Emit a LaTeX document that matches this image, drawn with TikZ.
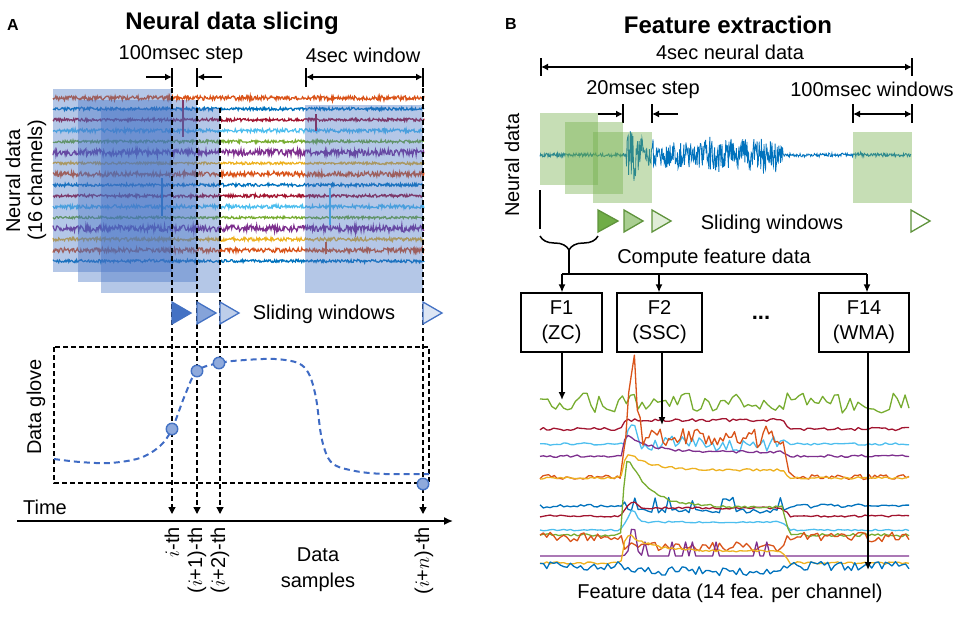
\documentclass[tikz,border=0pt]{standalone}
\usepackage{fontspec}
\setmainfont{Liberation Sans}
\usetikzlibrary{arrows.meta,decorations.pathreplacing}
\definecolor{mOr}{HTML}{D95319}
\definecolor{mBl}{HTML}{0072BD}
\definecolor{mRd}{HTML}{A2142F}
\definecolor{mLb}{HTML}{4DBEEE}
\definecolor{mGr}{HTML}{77AC30}
\definecolor{mPu}{HTML}{7E2F8E}
\definecolor{mYe}{HTML}{EDB120}
\definecolor{wBlue}{HTML}{4472C4}
\definecolor{wGreen}{HTML}{70AD47}
\definecolor{gBlue}{HTML}{3F6BC4}
\definecolor{cDot}{HTML}{8FAADC}
\begin{document}
\begin{tikzpicture}[x=1pt,y=-1pt,
  lbl/.style={font=\fontsize{20}{26}\selectfont, inner sep=0pt},
  ttl/.style={font=\bfseries\fontsize{24}{28}\selectfont, inner sep=0pt},
  pnl/.style={font=\bfseries\fontsize{16}{18}\selectfont, inner sep=0pt},
  dimline/.style={line width=1.5pt},
  dimarrow/.style={line width=1.5pt, -{Latex[length=7pt,width=7pt]}},
  dimboth/.style={line width=1.5pt, {Latex[length=7pt,width=7pt]}-{Latex[length=7pt,width=7pt]}},
  guide/.style={dash pattern=on 5pt off 3pt, line width=1.3pt, -{Triangle[length=7pt,width=7pt]}},
  winA/.style={fill=wBlue, fill opacity=0.4},
  winB/.style={fill=wGreen, fill opacity=0.4},
  triA/.style={line width=1.3pt, draw=wBlue, line join=miter},
  triB/.style={line width=1.3pt, draw=wGreen!85!black, line join=miter},
  gdot/.style={circle, draw=wBlue, fill=cDot, line width=1.4pt, minimum size=11.5pt, inner sep=0pt},
  glove/.style={gBlue, line width=2pt, dash pattern=on 6pt off 4pt},
  fbox/.style={draw, line width=1.3pt, align=center, font=\fontsize{20}{25}\selectfont, minimum height=59pt, inner sep=0pt},
  farrow/.style={line width=1.5pt, -{Latex[length=8pt,width=7pt]}},
  ftrace/.style={line width=1.3pt, line join=round},
  declare function={
    ac(\t)=min(1,max(0,(\t-620)/6))*min(1,max(0,(790-\t)/8));
    dc(\t)=(\t>622)*exp(-min(9,max(0,\t-630)/22));
    gs(\t)=exp(-min(9,((\t-633)/5)^2));
    bamp(\t)=(\t<626)*3+(\t>=626)*(\t<660)*(36*exp(-min(9,max(0,\t-630)/12))+14)+(\t>=660)*(\t<700)*22+(\t>=700)*(\t<784)*26+(\t>=784)*3;
  }]
\useasboundingbox (0,0) rectangle (957,616);
\pgfmathsetseed{11}

% ================= Panel A =================
\node[pnl] (labA) at (13,25) {A};
\node[ttl] (titA) at (232,23) {Neural data slicing};
\node[lbl] (stepA) at (181,55) {100msec step};
\node[lbl] (winlA) at (363,55) {4sec window};

\node[lbl, rotate=90] (ndA) at (13,181) {Neural data};
\node[lbl, rotate=90] (chA) at (37,180) {(16 channels)};

% neural traces
\foreach \c/\a [count=\k from 0] in {mOr/3.4,mBl/2.2,mRd/2.2,mLb/2.8,mGr/2.2,mPu/4.8,mYe/1.8,mOr/3.6,mBl/2.2,mRd/2.2,mLb/2.8,mGr/1.8,mPu/4.8,mYe/2.6,mOr/3.4,mBl/2.2}
  \draw[\c, line width=1.2pt] plot[domain=53:424, samples=520] (\x,{98+\k*10.87+\a*(0.65*rand+0.35*rand*rand*rand)});
\draw[mRd, line width=1.2pt] (183,100) -- (183,137);
\draw[mRd, line width=1.2pt] (316,114) -- (316,131);
\draw[mBl, line width=1.2pt] (162,178) -- (162,216);
\draw[mLb, line width=1.2pt] (330,188) -- (330,225);
\draw[mOr, line width=1.2pt] (326,242) -- (326,254);

% windows
\fill[winA] (53,89) rectangle (172,272);
\fill[winA] (78,100) rectangle (197,282);
\fill[winA] (101,108) rectangle (220,293);
\fill[winA] (305,105) rectangle (423,293);

% dimension marks
\coordinate (s1t) at (172,68); \coordinate (s1b) at (172,87);
\coordinate (s2t) at (197,68); \coordinate (s2b) at (197,87);
\coordinate (w1t) at (306,68); \coordinate (w1b) at (306,87);
\coordinate (w2t) at (423,68); \coordinate (w2b) at (423,87);
\draw[dimline] (s1t) -- (s1b); \draw[dimline] (s2t) -- (s2b);
\draw[dimline] (w1t) -- (w1b); \draw[dimline] (w2t) -- (w2b);
\coordinate (a1) at (146,77); \coordinate (a2) at (222,77);
\draw[dimarrow] (a1) -- (172,77);
\draw[dimarrow] (a2) -- (197,77);
\draw[dimboth] (306,77) -- (423,77);

% guides
\coordinate (g1) at (172,88);  \coordinate (g1e) at (172,514);
\coordinate (g2) at (197,100); \coordinate (g2e) at (197,514);
\coordinate (g3) at (220,108); \coordinate (g3e) at (220,514);
\coordinate (g4) at (423,88);  \coordinate (g4e) at (423,514);
\draw[guide] (g1) -- (g1e);
\draw[guide] (g2) -- (g2e);
\draw[guide] (g3) -- (g3e);
\draw[guide] (g4) -- (g4e);

% sliding window triangles
\draw[triA, fill=wBlue] (172,302) -- (172,324) -- (191,313) -- cycle;
\draw[triA, fill=wBlue!65] (197,302) -- (197,324) -- (216,313) -- cycle;
\draw[triA, fill=wBlue!35] (220,302) -- (220,324) -- (239,313) -- cycle;
\draw[triA, fill=wBlue!18] (423,302) -- (423,324) -- (442,313) -- cycle;
\node[lbl] (swA) at (324,314) {Sliding windows};

% data glove
\draw[line width=1.3pt, dash pattern=on 5pt off 3pt] (54,347) rectangle (429,483);
\node[lbl, rotate=90] (dgl) at (36,407) {Data glove};
\draw[glove] plot[smooth, tension=0.55] coordinates {(54,459) (80,462) (110,463) (140,458) (160,446) (172,429) (185,395) (197,371) (219,363) (245,360) (275,359) (298,363) (309,374) (316,398) (322,440) (332,463) (355,471) (385,474) (429,474)};
\node[gdot] (d1) at (172,429) {};
\node[gdot] (d2) at (197,371) {};
\node[gdot] (d3) at (219,363) {};
\node[gdot] (d4) at (423,484) {};

% time axis
\node[lbl] (time) at (45,507) {Time};
\coordinate (t0) at (17,521); \coordinate (t1) at (453,521);
\draw[line width=1.5pt, -{Latex[length=9pt,width=8pt]}] (t0) -- (t1);
\node[lbl, rotate=90, anchor=east] (l1) at (172,527) {$i$-th};
\node[lbl, rotate=90, anchor=east] (l2) at (197,527) {($i$+1)-th};
\node[lbl, rotate=90, anchor=east] (l3) at (220,527) {($i$+2)-th};
\node[lbl, rotate=90, anchor=east] (l4) at (424,527) {($i$+$n$)-th};
\node[lbl, align=center] (dsamp) at (318,570) {Data\\samples};

% ================= Panel B =================
\node[pnl] (labB) at (511,24) {B};
\node[ttl] (titB) at (728,25) {Feature extraction};
\node[lbl] (fsd) at (730,52) {4sec neural data};
\draw[dimline] (541,58) -- (541,76);
\draw[dimline] (912,58) -- (912,76);
\draw[dimboth] (541,67) -- (912,67);
\node[lbl] (stepB) at (643,90) {20msec step};
\node[lbl] (winlB) at (872,89) {100msec windows};
\draw[dimline] (623,104) -- (623,123);
\draw[dimline] (652,104) -- (652,123);
\draw[dimarrow] (598,114) -- (623,114);
\draw[dimarrow] (678,114) -- (652,114);
\draw[dimline] (853,104) -- (853,123);
\draw[dimline] (912,104) -- (912,123);
\draw[dimboth] (853,114) -- (912,114);

\node[lbl, rotate=90] (ndB) at (512,165) {Neural data};

% signal
\draw[mBl, line width=0.8pt] plot[domain=540:911, samples=700]
  (\x,{155+bamp(\x)*(0.6*rand+0.4*rand*rand*rand)});

% green windows
\fill[winB] (540,113) rectangle (598,185);
\fill[winB] (565,122) rectangle (623,194);
\fill[winB] (593,132) rectangle (652,203);
\fill[winB] (853,132) rectangle (912,203);

% triangles
\draw[triB, fill=wGreen] (598,210) -- (598,232) -- (618,221) -- cycle;
\draw[triB, fill=wGreen!60] (624,210) -- (624,232) -- (643,221) -- cycle;
\draw[triB, fill=wGreen!22] (652,210) -- (652,232) -- (671,221) -- cycle;
\draw[triB, fill=white] (911,210) -- (911,232) -- (930,221) -- cycle;
\node[lbl] (swB) at (772,224) {Sliding windows};

% brace and distribution
\coordinate (bl) at (540,190); \coordinate (blb) at (540,229);
\draw[line width=1.5pt] (bl) -- (blb);
\draw[line width=1.5pt, decorate, decoration={brace, mirror, amplitude=14pt}] (540,236) -- (598,236);
\coordinate (br) at (569,250); \coordinate (hj) at (569,274);
\draw[line width=1.5pt] (br) -- (hj);
\coordinate (hl) at (562,274); \coordinate (hm) at (659,274); \coordinate (hr) at (867,274);
\draw[line width=1.5pt] (hl) -- (hr);
\node[lbl] (cfd) at (714,258) {Compute feature data};

\node[fbox, minimum width=81pt] (f1) at (561.5,322.5) {F1\\(ZC)};
\node[fbox, minimum width=85pt] (f2) at (659.5,322.5) {F2\\(SSC)};
\node[fbox, minimum width=90pt] (f14) at (864,322.5) {F14\\(WMA)};
\node[font=\bfseries\fontsize{22}{24}\selectfont, inner sep=0pt] (dots) at (761,318) {...};

\draw[farrow] (hl) -- (hl |- f1.north);
\draw[farrow] (hm) -- (hm |- f2.north);
\draw[farrow] (hr) -- (hr |- f14.north);

% feature traces
\draw[mGr, ftrace] plot[domain=540:909, samples=95] (\x,{403+10*rand});
\draw[mRd, ftrace] plot[domain=540:909, samples=110] (\x,{429-9*ac(\x)+1.5*rand});
\draw[mLb, ftrace] plot[domain=540:909, samples=110] (\x,{444-22*gs(\x)+ac(\x)*7*rand+1.2*rand});
\draw[mPu, ftrace] plot[domain=540:909, samples=110] (\x,{456-4*ac(\x)-16*dc(\x)*ac(\x)+1.2*rand});
\draw[mOr, ftrace] plot[domain=540:909, samples=130] (\x,{477-40*ac(\x)-80*gs(\x)+ac(\x)*10*rand+2.5*rand});
\draw[mYe, ftrace] plot[domain=540:909, samples=110] (\x,{478-8*ac(\x)-16*dc(\x)*ac(\x)+1.2*rand});
\draw[mBl, ftrace] plot[domain=540:909, samples=110] (\x,{506+5*ac(\x)-12*ac(\x)*(rand>0.5)+2*rand});
\draw[mRd, ftrace] plot[domain=540:909, samples=110] (\x,{516-8*ac(\x)-6*gs(\x)+1*rand});
\draw[mLb, ftrace] plot[domain=540:909, samples=110] (\x,{530-8*ac(\x)-12*gs(\x)+0.8*rand});
\draw[mGr, ftrace] plot[domain=540:909, samples=120] (\x,{535-28*ac(\x)-45*dc(\x)*ac(\x)+1.5*rand});
\draw[mOr, ftrace] plot[domain=540:909, samples=110] (\x,{537+10*ac(\x)+5*rand});
\draw[mPu, ftrace] plot[domain=540:909, samples=110] (\x,{556-14*ac(\x)*(rand>0.7)-14*gs(\x)});
\draw[mYe, ftrace] plot[domain=540:909, samples=110] (\x,{563-12*ac(\x)-16*dc(\x)*ac(\x)+1.2*rand});
\draw[mBl, ftrace] plot[domain=540:909, samples=110] (\x,{566+5*ac(\x)+4.5*rand});

\coordinate (e1) at (562,400); \coordinate (e2) at (662,425); \coordinate (e14) at (868,570);
\draw[farrow] (f1.south -| e1) -- (e1);
\draw[farrow] (f2.south -| e2) -- (e2);
\draw[farrow] (f14.south -| e14) -- (e14);

\node[lbl] (fdl) at (730,593) {Feature data (14 fea. per channel)};
\end{tikzpicture}
\end{document}
